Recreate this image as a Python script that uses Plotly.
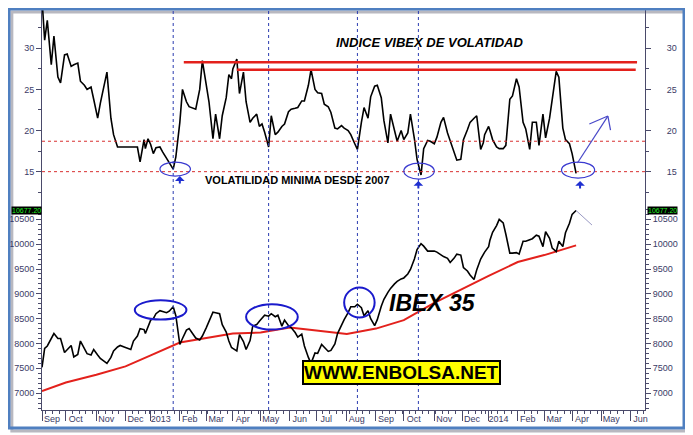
import plotly.graph_objects as go

# sesiones (martes y viernes) entre sep-2012 y abr-2014
fechas = [
    "2012-09-05", "2012-09-07", "2012-09-11", "2012-09-14", "2012-09-18", "2012-09-21", "2012-09-25", "2012-09-28",
    "2012-10-02", "2012-10-05", "2012-10-09", "2012-10-12", "2012-10-16", "2012-10-19", "2012-10-23", "2012-10-26", "2012-10-30",
    "2012-11-02", "2012-11-06", "2012-11-09", "2012-11-13", "2012-11-16", "2012-11-20", "2012-11-23", "2012-11-27", "2012-11-30",
    "2012-12-04", "2012-12-07", "2012-12-11", "2012-12-14", "2012-12-18", "2012-12-21", "2012-12-24", "2012-12-28",
    "2013-01-02", "2013-01-04", "2013-01-08", "2013-01-11", "2013-01-15", "2013-01-18", "2013-01-22", "2013-01-25", "2013-01-29",
    "2013-02-01", "2013-02-05", "2013-02-08", "2013-02-12", "2013-02-15", "2013-02-19", "2013-02-22", "2013-02-26",
    "2013-03-01", "2013-03-05", "2013-03-08", "2013-03-12", "2013-03-15", "2013-03-19", "2013-03-22", "2013-03-26", "2013-03-28",
    "2013-04-02", "2013-04-05", "2013-04-09", "2013-04-12", "2013-04-16", "2013-04-19", "2013-04-23", "2013-04-26", "2013-04-30",
    "2013-05-03", "2013-05-07", "2013-05-10", "2013-05-14", "2013-05-17", "2013-05-21", "2013-05-24", "2013-05-28", "2013-05-31",
    "2013-06-04", "2013-06-07", "2013-06-11", "2013-06-14", "2013-06-18", "2013-06-21", "2013-06-25", "2013-06-28",
    "2013-07-02", "2013-07-05", "2013-07-09", "2013-07-12", "2013-07-16", "2013-07-19", "2013-07-23", "2013-07-26", "2013-07-30",
    "2013-08-02", "2013-08-06", "2013-08-09", "2013-08-13", "2013-08-16", "2013-08-20", "2013-08-23", "2013-08-27", "2013-08-30",
    "2013-09-03", "2013-09-06", "2013-09-10", "2013-09-13", "2013-09-17", "2013-09-20", "2013-09-24", "2013-09-27",
    "2013-10-01", "2013-10-04", "2013-10-08", "2013-10-11", "2013-10-15", "2013-10-18", "2013-10-22", "2013-10-25", "2013-10-29",
    "2013-11-01", "2013-11-05", "2013-11-08", "2013-11-12", "2013-11-15", "2013-11-19", "2013-11-22", "2013-11-26", "2013-11-29",
    "2013-12-03", "2013-12-06", "2013-12-10", "2013-12-13", "2013-12-17", "2013-12-20", "2013-12-24", "2013-12-27",
    "2014-01-02", "2014-01-03", "2014-01-07", "2014-01-10", "2014-01-14", "2014-01-17", "2014-01-21", "2014-01-24", "2014-01-28", "2014-01-31",
    "2014-02-04", "2014-02-07", "2014-02-11", "2014-02-14", "2014-02-18", "2014-02-21", "2014-02-25", "2014-02-28",
    "2014-03-04", "2014-03-07", "2014-03-11", "2014-03-14", "2014-03-18", "2014-03-21", "2014-03-25", "2014-03-28",
    "2014-04-01", "2014-04-04",
]

vibex = [
    36, 31.0, 33.4, 28, 31.5, 26.5, 25.8, 29.2,
    29.3, 27.8, 28, 28.2, 26, 25.5, 25, 25.3, 23.8,
    21.5, 23.3, 25.8, 27.1, 21.5, 19.5, 18, 18, 18,
    18, 18, 18, 18, 16.2, 18.9, 17.8, 19,
    18.3, 17.2, 17.9, 18, 17.4, 16.6, 16, 15.3, 16.8,
    21, 25, 23.5, 22.9, 22.7, 22.6, 25, 28.5,
    25.5, 23.5, 19, 22, 19, 21.8, 24, 26.8, 26.3,
    27.5, 28.7, 24.5, 27.1, 23.5, 21, 21.5, 22, 20.5,
    20.8, 19.8, 18, 21.8, 19.5, 19.8, 20.5, 20.8, 22.3,
    22.6, 22.7, 22.8, 23.6, 23.6, 25.5, 27.4, 25,
    24.6, 24.5, 23.2, 22.9, 22.2, 20.3, 20.2, 20.6, 20.3,
    20, 19.5, 18.4, 17.7, 21, 22.8, 21.5, 24.1, 25.4,
    25.5, 24, 21.2, 18.5, 22, 20, 18.7, 20,
    18.9, 19.7, 22, 19, 16.5, 14.6, 17.8, 18.8, 18.7,
    18.4, 19.2, 21, 21.6, 19.7, 18.8, 17.4, 16.4, 16.5,
    18.9, 20.1, 21, 21.5, 21.8, 17.7, 18.5, 19.5,
    20.5, 20, 18.9, 18, 17.8, 17.8, 18.2, 23.8, 24.2, 26.3,
    25.3, 21, 20.2, 17.7, 21, 21, 18.2, 22,
    19.1, 21.5, 23.7, 27.2, 26.5, 20.3, 18.9, 18.4,
    17.2, 14.8,
]

ibex = [
    7520, 7900, 7950, 8100, 8200, 8100, 8100, 7820,
    7880, 7960, 7730, 7780, 8050, 7900, 7795, 7770, 7880,
    7770, 7700, 7640, 7600, 7720, 7850, 7930, 7960, 7930,
    7910, 7880, 8050, 8150, 8300, 8280, 8200, 8350,
    8470, 8500, 8600, 8660, 8640, 8620, 8650, 8740, 8560,
    7980, 8100, 8270, 8300, 8170, 8110, 8070, 8150,
    8320, 8460, 8630, 8620, 8600, 8380, 8230, 8050, 7920,
    7900, 7850, 8180, 8040, 7880, 8060, 8350, 8380, 8450,
    8510, 8570, 8550, 8600, 8540, 8570, 8350, 8470, 8360,
    8320, 8220, 8130, 8190, 7950, 7720, 7600, 7810,
    7800, 7980, 7930, 7840, 7860, 7990, 8200, 8390, 8480,
    8620, 8740, 8740, 8790, 8720, 8560, 8660, 8500, 8360,
    8480, 8750, 8890, 9030, 9110, 9200, 9250, 9300,
    9320, 9400, 9490, 9700, 9890, 10010, 9960, 9860, 9860,
    9860, 9840, 9780, 9750, 9715, 9630, 9720, 9800, 9780,
    9530, 9460, 9380, 9290, 9480, 9700, 9800, 9840,
    9950, 10080, 10240, 10375, 10500, 10430, 10200, 9820, 9820, 9830,
    9800, 10060, 10060, 10090, 10110, 10180, 10160, 9950,
    10250, 10120, 9920, 9850, 10060, 9950, 10230, 10420,
    10600, 10677.2,
]

fechas_media = ["2012-09-05", "2012-10-01", "2012-11-01", "2012-12-03", "2013-01-02", "2013-02-01",
                "2013-03-01", "2013-04-02", "2013-05-02", "2013-06-03", "2013-07-01", "2013-08-01",
                "2013-09-02", "2013-10-01", "2013-11-01", "2013-12-02", "2014-01-02", "2014-02-03",
                "2014-03-03", "2014-04-04"]
media_ibex = [7040, 7215, 7370, 7540, 7760, 8020, 8110, 8200, 8220, 8320, 8260, 8190,
              8300, 8470, 8820, 9100, 9360, 9640, 9780, 9975]

meses_val = ["2012-09-05", "2012-10-01", "2012-11-01", "2012-12-03", "2013-01-02", "2013-02-01",
             "2013-03-01", "2013-04-02", "2013-05-02", "2013-06-03", "2013-07-01", "2013-08-01",
             "2013-09-02", "2013-10-01", "2013-11-01", "2013-12-02", "2014-01-02", "2014-02-03",
             "2014-03-03", "2014-04-01", "2014-05-01", "2014-06-02"]
meses_txt = ["Sep", "Oct", "Nov", "Dec", "2013", "Feb", "Mar", "Apr", "May", "Jun", "Jul", "Aug",
             "Sep", "Oct", "Nov", "Dec", "2014", "Feb", "Mar", "Apr", "May", "Jun"]
festivos = ["2012-12-25", "2012-12-26", "2013-01-01", "2013-03-29", "2013-04-01", "2013-05-01",
            "2013-12-25", "2013-12-26", "2014-01-01"]

ultimo_ibex = 10677.2
lineas_verticales = ["2013-01-25", "2013-05-10", "2013-08-13", "2013-10-16"]
niveles_soporte = [18.7, 15]          # lineas rojas punteadas
resistencias = [(28.3, "2013-02-06", "2014-06-09"), (27.4, "2013-04-05", "2014-06-06")]

assert len(fechas) == len(vibex) == len(ibex), (len(fechas), len(vibex), len(ibex))

AZUL_EJE = "#4a4a6a"
fuente_ticks = dict(family="Arial, Liberation Sans", size=9, color="#3b3b66")

fig = go.Figure()
fig.add_trace(go.Scatter(x=fechas, y=vibex, mode="lines", line=dict(color="black", width=1.6),
                         xaxis="x", yaxis="y", showlegend=False))
fig.add_trace(go.Scatter(x=fechas_media, y=media_ibex, mode="lines", line=dict(color="#e3211c", width=2),
                         xaxis="x", yaxis="y2", showlegend=False))
fig.add_trace(go.Scatter(x=fechas, y=ibex, mode="lines", line=dict(color="black", width=1.6),
                         xaxis="x", yaxis="y2", showlegend=False))
# copias invisibles para que se dibujen los ejes de la derecha
fig.add_trace(go.Scatter(x=fechas, y=vibex, mode="lines", opacity=0, hoverinfo="skip",
                         xaxis="x", yaxis="y3", showlegend=False))
fig.add_trace(go.Scatter(x=fechas, y=ibex, mode="lines", opacity=0, hoverinfo="skip",
                         xaxis="x", yaxis="y4", showlegend=False))

eje_y = dict(showline=True, linecolor=AZUL_EJE, linewidth=1, ticks="outside", ticklen=5,
             tickcolor=AZUL_EJE, tickfont=fuente_ticks, showgrid=False, zeroline=False)
rango_vibex = [10.95, 34.9]
rango_ibex = [6661, 10789]
corte = 0.51
ticks_ibex = [7000, 7500, 8000, 8500, 9000, 9500, 10000, 10500]

fig.update_layout(
    width=693, height=435,
    margin=dict(l=34, r=56, t=0, b=33),
    paper_bgcolor="white", plot_bgcolor="white",
    xaxis=dict(type="date", domain=[0, 1], anchor="y2", range=["2012-09-05", "2014-06-17"],
               rangebreaks=[dict(bounds=["sat", "mon"]), dict(values=festivos)],
               tickmode="array", tickvals=meses_val, ticktext=meses_txt,
               ticks="outside", ticklen=10, tickcolor=AZUL_EJE, ticklabelshift=10, ticklabelstandoff=-10,
               tickfont=fuente_ticks, showline=True, linecolor=AZUL_EJE, showgrid=False,
               minor=dict(ticks="outside", ticklen=3, tickcolor=AZUL_EJE, dtick=7 * 86400000,
                          tick0="2012-09-03", showgrid=False)),
    yaxis=dict(domain=[corte, 1], anchor="x", range=rango_vibex, tickvals=[15, 20, 25, 30],
               minor=dict(ticks="outside", ticklen=3, dtick=2.5, tickcolor=AZUL_EJE), **eje_y),
    yaxis3=dict(overlaying="y", side="right", anchor="x", range=rango_vibex, tickvals=[15, 20, 25, 30],
                ticklabelstandoff=14, minor=dict(ticks="outside", ticklen=3, dtick=2.5, tickcolor=AZUL_EJE), **eje_y),
    yaxis2=dict(domain=[0, corte], anchor="x", range=rango_ibex, tickvals=ticks_ibex, tickformat="d",
                minor=dict(ticks="outside", ticklen=3, dtick=100, tickcolor=AZUL_EJE), **eje_y),
    yaxis4=dict(overlaying="y2", side="right", anchor="x", range=rango_ibex, tickvals=ticks_ibex, tickformat="d",
                minor=dict(ticks="outside", ticklen=3, dtick=100, tickcolor=AZUL_EJE), **eje_y),
)

# marco azul con sombra
fig.add_shape(type="rect", xref="paper", yref="paper", x0=-0.05, x1=1.071, y0=-0.052, y1=0.99,
              line=dict(color="#b8b8c0", width=3), layer="below")
fig.add_shape(type="rect", xref="paper", yref="paper", x0=-0.0547, x1=1.0647, y0=-0.0448, y1=0.9975,
              line=dict(color="#4f7fc0", width=3))

# lineas verticales azules punteadas
for f in lineas_verticales:
    fig.add_shape(type="line", xref="x", yref="paper", x0=f, x1=f, y0=0, y1=1,
                  line=dict(color="#2b3cb0", width=1, dash="dot"))
# niveles horizontales rojos punteados
for n in niveles_soporte:
    fig.add_shape(type="line", xref="paper", yref="y", x0=0, x1=1, y0=n, y1=n,
                  line=dict(color="#d83030", width=1, dash="dot"))
# resistencias
for nivel, ini, fin in resistencias:
    fig.add_shape(type="line", xref="x", yref="y", x0=ini, x1=fin, y0=nivel, y1=nivel,
                  line=dict(color="#e3211c", width=2.5))

# elipses
elipses_vibex = [("2013-01-11", "2013-02-13", 14.46, 16.17), ("2013-10-01", "2013-11-01", 14.1, 16.05),
                 ("2014-03-20", "2014-04-24", 14.22, 16.17)]
for x0, x1, y0, y1 in elipses_vibex:
    fig.add_shape(type="circle", xref="x", yref="y", x0=x0, x1=x1, y0=y0, y1=y1,
                  line=dict(color="#3a3ad0", width=1.2))
elipses_ibex = [("2012-12-12", "2013-02-08", 8482, 8871), ("2013-04-16", "2013-06-11", 8280, 8790),
                ("2013-07-30", "2013-08-30", 8522, 9128)]
for x0, x1, y0, y1 in elipses_ibex:
    fig.add_shape(type="circle", xref="x", yref="y2", x0=x0, x1=x1, y0=y0, y1=y1,
                  line=dict(color="#1a1acc", width=2))

# flecha de subida prevista
fig.add_shape(type="line", xref="x", yref="y", x0="2014-04-07", y0=16.05, x1="2014-05-08", y1=21.76,
              line=dict(color="#4848c8", width=1.2))
fig.add_shape(type="line", xref="x", yref="y", x0="2014-05-08", y0=21.76, x1="2014-04-18", y1=20.79,
              line=dict(color="#4848c8", width=1.2))
fig.add_shape(type="line", xref="x", yref="y", x0="2014-05-08", y0=21.76, x1="2014-05-12", y1=20.06,
              line=dict(color="#4848c8", width=1.2))
# linea gris al final del ibex
fig.add_shape(type="line", xref="x", yref="y2", x0="2014-04-04", y0=ultimo_ibex, x1="2014-04-22", y1=10385,
              line=dict(color="#9a9ac4", width=1))

# flechitas azules bajo los minimos
for f, v in [("2013-02-01", 14.46), ("2013-10-16", 13.86), ("2014-04-09", 13.86)]:
    fig.add_annotation(x=f, y=v, xref="x", yref="y", text="", showarrow=True, ax=0, ay=9,
                       arrowhead=1, arrowsize=0.8, arrowwidth=2, arrowcolor="#1f2fd0")

# textos
fig.add_annotation(x=0.643, y=0.938, xref="paper", yref="paper", showarrow=False,
                   text="<b><i>INDICE VIBEX DE VOLATIDAD</i></b>",
                   font=dict(family="Arial, Liberation Sans", size=13, color="black"))
fig.add_annotation(x=0.423, y=0.572, xref="paper", yref="paper", showarrow=False,
                   text="<b>VOLATILIDAD MINIMA DESDE 2007</b>",
                   font=dict(family="Arial, Liberation Sans", size=11, color="black"))
fig.add_annotation(x=0.723, y=0.229, xref="paper", yref="paper", showarrow=False,
                   text="<b><i>IBEX 35</i></b>",
                   font=dict(family="Arial, Liberation Sans", size=23, color="black"))
fig.add_annotation(x=0.762, y=0.0622, xref="paper", yref="paper", showarrow=False,
                   text="<b>WWW.ENBOLSA.NET</b>", bgcolor="#ffff00", bordercolor="black",
                   borderwidth=2, borderpad=0,
                   font=dict(family="Arial, Liberation Sans", size=19, color="black"))
# ultimo valor a ambos lados
for xp, anc in [(0, "right"), (1.003, "left")]:
    fig.add_annotation(x=xp, y=ultimo_ibex, xref="paper", yref="y2", xanchor=anc, showarrow=False,
                       text=f"{ultimo_ibex:.2f}", bgcolor="black", borderpad=0,
                       font=dict(family="Arial, Liberation Sans", size=7, color="#22ee22"))

fig.write_html("out.html")
